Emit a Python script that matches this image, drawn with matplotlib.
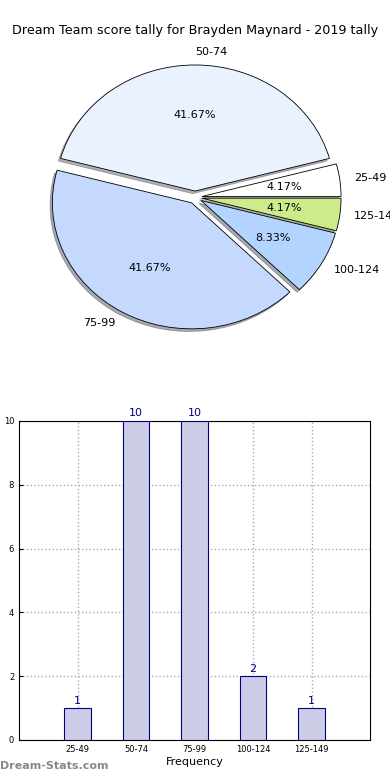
import matplotlib
matplotlib.use('Agg')
import matplotlib.pyplot as plt

# score bands and counts
bands = ['25-49', '50-74', '75-99', '100-124', '125-149']
counts = [1, 10, 10, 2, 1]
pie_colors = ['#ffffff', '#eaf1ff', '#c5d9ff', '#b3d4ff', '#cdeb8b']
title = 'Dream Team score tally for Brayden Maynard - 2019 tally'

fig = plt.figure(figsize=(3.9, 7.8), dpi=100)

# pie
ax1 = fig.add_axes([0.054, 0.545, 0.892, 0.404])
wedges, texts, autotexts = ax1.pie(
    counts, labels=bands, colors=pie_colors, autopct='%.2f%%',
    explode=[0.05] * len(counts),
    shadow={'ox': -0.012, 'oy': -0.015, 'shade': 0.6}, startangle=0,
    wedgeprops=dict(edgecolor='black', linewidth=0.6),
    textprops=dict(fontsize=8))
ax1.set_aspect('auto')
ax1.set_xlim(-1.25, 1.25)
ax1.set_ylim(-1.25, 1.25)

fig.text(0.5, 0.9615, title, ha='center', va='center', fontsize=9.2)

# bars
ax2 = fig.add_axes([0.049, 0.0513, 0.9, 0.409])
pos = list(range(1, len(bands) + 1))
bars = ax2.bar(pos, counts, width=0.45, color='#ccccE6', edgecolor='navy',
               linewidth=0.8, zorder=3)
for p, c in zip(pos, counts):
    ax2.text(p, c + 0.08, str(c), ha='center', va='bottom', color='navy',
             fontsize=8)
ax2.set_xlim(0, 6)
ax2.set_ylim(0, 10)
ax2.set_xticks(pos)
ax2.set_xticklabels(bands)
ax2.set_yticks([0, 2, 4, 6, 8, 10])
ax2.tick_params(labelsize=6, direction='in', length=3)
ax2.grid(True, linestyle=':', color='#aaaaaa', linewidth=1, zorder=0)
ax2.set_xlabel('Frequency', fontsize=8, labelpad=2)
ax2.set_ylabel('Score intervals', fontsize=6, labelpad=2)
ax2.yaxis.set_label_coords(-0.05, 0.5)

fig.text(0.0, 0.012, 'Dream-Stats.com', fontsize=8, color='#888888',
         fontweight='bold', ha='left', va='bottom')

fig.savefig('out.png', dpi=100)
